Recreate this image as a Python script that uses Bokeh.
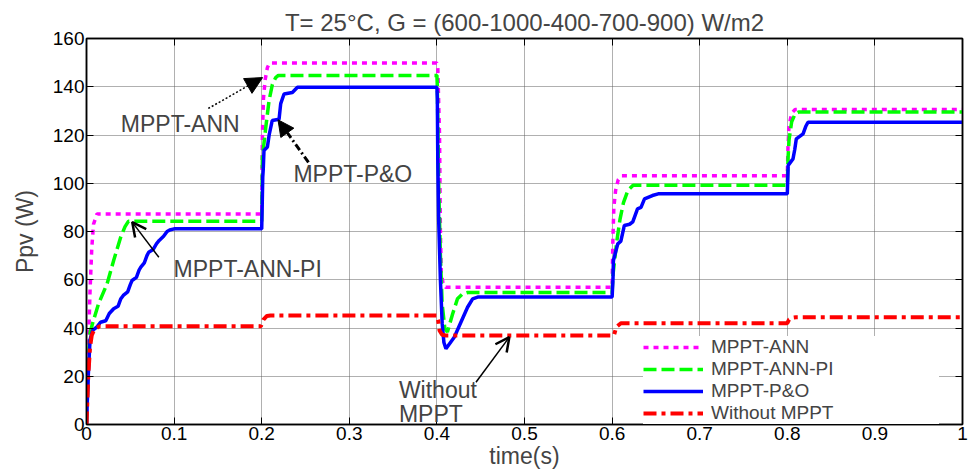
from bokeh.plotting import figure
from bokeh.models import (FixedTicker, LinearAxis, Legend, LegendItem, Label, Title,
                          Arrow, NormalHead, OpenHead, Range1d)
from bokeh.embed import file_html
from bokeh.resources import INLINE

# ---------------- data ----------------
title_text = "T= 25°C, G = (600-1000-400-700-900) W/m2"
x_label = "time(s)"
y_label = "Ppv (W)"
x_ticks = [0, 0.1, 0.2, 0.3, 0.4, 0.5, 0.6, 0.7, 0.8, 0.9, 1]
x_tick_labels = ["0", "0.1", "0.2", "0.3", "0.4", "0.5", "0.6", "0.7", "0.8", "0.9", "1"]
y_ticks = [0, 20, 40, 60, 80, 100, 120, 140, 160]
series_names = ["MPPT-ANN", "MPPT-ANN-PI", "MPPT-P&O", "Without MPPT"]

ann_t = [0, 0.002, 0.004, 0.006, 0.008, 0.012, 0.2, 0.2008, 0.202, 0.204, 0.2065, 0.209,
         0.4, 0.401, 0.403, 0.404, 0.405, 0.407, 0.41, 0.6, 0.6008, 0.602, 0.604, 0.607, 0.611,
         0.8, 0.8008, 0.802, 0.805, 0.809, 1.0]
ann_p = [0, 30, 55, 73, 83, 87.3, 87.3, 120, 135, 143, 148, 149.8,
         149.8, 148, 120, 80, 63, 58.5, 56.9, 56.9, 75, 90, 97, 101.5, 103.1,
         103.1, 115, 124, 129, 130.6, 130.6]

pi_t = [0, 0.002, 0.004, 0.007, 0.0137, 0.0236, 0.031, 0.039, 0.044, 0.048, 0.2,
        0.2005, 0.2008, 0.2046, 0.2084, 0.2122, 0.216, 0.219,
        0.4, 0.4005, 0.402, 0.404, 0.406, 0.409, 0.412, 0.418, 0.4235, 0.429, 0.435,
        0.6, 0.601, 0.605, 0.609, 0.613, 0.618, 0.624,
        0.8, 0.8008, 0.802, 0.805, 0.809, 0.813, 1.0]
pi_p = [0, 25, 38, 42, 50, 58.4, 68, 77.6, 82, 84.3, 84.3,
        100, 110.8, 123, 134.3, 141, 143.8, 144.7,
        144.7, 140, 100, 70, 50, 40, 38.3, 45.9, 52.1, 54, 54.7,
        54.7, 62, 75, 85, 92, 97, 99.2,
        99.2, 110, 118, 125.5, 128.8, 129.5, 129.5]

po_t = [0, 0.002, 0.004, 0.007, 0.012, 0.016, 0.022, 0.026, 0.031, 0.036, 0.039, 0.042,
        0.047, 0.05, 0.052, 0.057, 0.06, 0.062, 0.066, 0.069, 0.071, 0.076, 0.08, 0.083,
        0.088, 0.092, 0.095, 0.1, 0.2,
        0.2008, 0.2012, 0.2018, 0.2026, 0.2065, 0.2085, 0.212, 0.2198, 0.2217, 0.2255,
        0.235, 0.2408, 0.4,
        0.4005, 0.401, 0.402, 0.404, 0.406, 0.408, 0.4103, 0.4198, 0.4274, 0.435, 0.4408,
        0.4465, 0.6,
        0.601, 0.6015, 0.6065, 0.61, 0.614, 0.62, 0.6236, 0.629, 0.633, 0.637, 0.646, 0.6526, 0.8,
        0.801, 0.8065, 0.8085, 0.8103, 0.818, 0.821, 0.8236, 1.0]
po_p = [0, 20, 35, 39, 40.5, 42.4, 43, 46, 48, 49, 52, 53.5,
        55, 58, 59.7, 61, 64, 65.2, 67, 70, 71.4, 72.5, 75, 76.3,
        78, 80, 80.6, 81.1, 81.1,
        95, 102.5, 106, 113.6, 115, 120, 126, 126.5, 133, 137,
        137.6, 139.8, 139.8,
        135, 110, 85, 60, 42, 34, 31.4, 36.2, 42.4, 48.6, 52.1,
        52.8, 52.8,
        60, 68, 74.9, 76, 82.5, 83, 84, 89.4, 90, 93.5, 94.9, 95.6, 95.6,
        107.4, 110.1, 114, 118.4, 120.5, 123.5, 125.3, 125.3]

wo_t = [0, 0.002, 0.004, 0.006, 0.009, 0.015, 0.199, 0.202, 0.206, 0.21,
        0.4, 0.4015, 0.403, 0.406, 0.41, 0.602, 0.605, 0.61,
        0.8, 0.802, 0.806, 0.81, 1.0]
wo_p = [0, 20, 32, 37, 39.5, 40.7, 40.7, 43.5, 45, 45.2,
        45.2, 43, 39, 37.2, 36.9, 36.9, 40.5, 42,
        42, 43.5, 44.3, 44.5, 44.5]

# annotation texts with their anchor points (data units)
ann_labels = ["MPPT-ANN", "MPPT-P&O", "MPPT-ANN-PI"]
ann_label_x = [0.107, 0.304, 0.184]
ann_label_y = [124.4, 103.9, 64.3]
wo_label_lines = ["Without", "MPPT"]
wo_label_x = 0.3566
wo_label_y = [14.4, 4.2]

FONT = "Liberation Sans"

p = figure(width=968, height=475, output_backend="svg", toolbar_location=None,
           x_range=Range1d(0, 1), y_range=Range1d(0, 160),
           min_border_left=86, min_border_right=6, min_border_top=38, min_border_bottom=51,
           background_fill_color="white", border_fill_color="white")

p.title.text = title_text
p.title.align = "center"
p.title.text_font = FONT
p.title.text_font_size = "24px"
p.title.text_font_style = "normal"
p.title.standoff = 6

xt = FixedTicker(ticks=x_ticks)
yt = FixedTicker(ticks=y_ticks)
bottom_ax = p.below[0]
left_ax = p.left[0]
bottom_ax.ticker = xt
left_ax.ticker = yt
bottom_ax.major_label_overrides = dict(zip(x_ticks, x_tick_labels))

# tick-only frame axes on top and right (MATLAB box style, no labels)
top_ax = LinearAxis(ticker=xt)
right_ax = LinearAxis(ticker=yt)
p.add_layout(top_ax, "above")
p.add_layout(right_ax, "right")

for ax in (bottom_ax, left_ax, top_ax, right_ax):
    ax.major_tick_in = 7
    ax.major_tick_out = 0
    ax.minor_tick_line_color = None
    ax.axis_line_color = "black"
    ax.axis_line_width = 1.5
    ax.major_tick_line_color = "black"
    ax.major_label_text_font = FONT
    ax.major_label_text_font_size = "19px"
    ax.major_label_text_color = "black"
    ax.major_label_standoff = 2
for ax in (top_ax, right_ax):
    ax.major_label_text_color = None
    ax.major_label_text_alpha = 0
    ax.major_label_text_font_size = "1px"
    ax.major_label_standoff = 0

left_ax.axis_label = y_label
left_ax.axis_label_text_font = FONT
left_ax.axis_label_text_font_size = "23px"
left_ax.axis_label_text_font_style = "normal"
left_ax.axis_label_standoff = 12

bottom_ax.axis_label = x_label
bottom_ax.axis_label_text_font = FONT
bottom_ax.axis_label_text_font_size = "23px"
bottom_ax.axis_label_text_font_style = "normal"
bottom_ax.axis_label_standoff = 0

p.outline_line_color = "black"
p.outline_line_width = 1.5

p.grid.grid_line_color = "#606060"
p.grid.grid_line_dash = "1 1"
p.grid.grid_line_width = 1

r1 = p.line(ann_t, ann_p, line_color="#ff00ff", line_width=3.5, line_dash="5 5")
r2 = p.line(pi_t, pi_p, line_color="#00ff00", line_width=3.5, line_dash="13 5")
r3 = p.line(po_t, po_p, line_color="#0000ff", line_width=3.5)
r4 = p.line(wo_t, wo_p, line_color="#ff0000", line_width=4, line_dash="13 5 4 5")

legend = Legend(items=[LegendItem(label=n, renderers=[r]) for n, r in zip(series_names, [r1, r2, r3, r4])],
                location=(557, 0), padding=4, margin=0, spacing=0,
                glyph_width=60, glyph_height=22, label_height=22, label_width=228,
                label_standoff=8, label_text_font=FONT, label_text_font_size="19px",
                border_line_color=None, background_fill_color="white", background_fill_alpha=1)
p.add_layout(legend, "center")

# text annotations
for txt, lx, ly in zip(ann_labels, ann_label_x, ann_label_y):
    p.add_layout(Label(x=lx, y=ly, text=txt, text_align="center", text_baseline="middle",
                       text_font=FONT, text_font_size="23px"))
for txt, ly in zip(wo_label_lines, wo_label_y):
    p.add_layout(Label(x=wo_label_x, y=ly, text=txt, text_align="left",
                       text_baseline="middle", text_font=FONT, text_font_size="23px"))

# arrows
p.add_layout(Arrow(x_start=0.139, y_start=131, x_end=0.201, y_end=143.8,
                   line_color="black", line_width=1.5, line_dash="2 2",
                   end=NormalHead(size=17, fill_color="black", line_color="black")))
p.add_layout(Arrow(x_start=0.2534, y_start=108.7, x_end=0.2186, y_end=126.3,
                   line_color="black", line_width=3, line_dash="7 3 2 3",
                   end=NormalHead(size=16, fill_color="black", line_color="black")))
p.add_layout(Arrow(x_start=0.0826, y_start=69.3, x_end=0.0522, y_end=83.9,
                   line_color="black", line_width=1.5,
                   end=OpenHead(size=14, line_color="black", line_width=2.5)))
p.add_layout(Arrow(x_start=0.4446, y_start=17.5, x_end=0.4827, y_end=36.2,
                   line_color="black", line_width=1.5,
                   end=OpenHead(size=14, line_color="black", line_width=2.5)))

open("out.html", "w").write(file_html(p, INLINE))
